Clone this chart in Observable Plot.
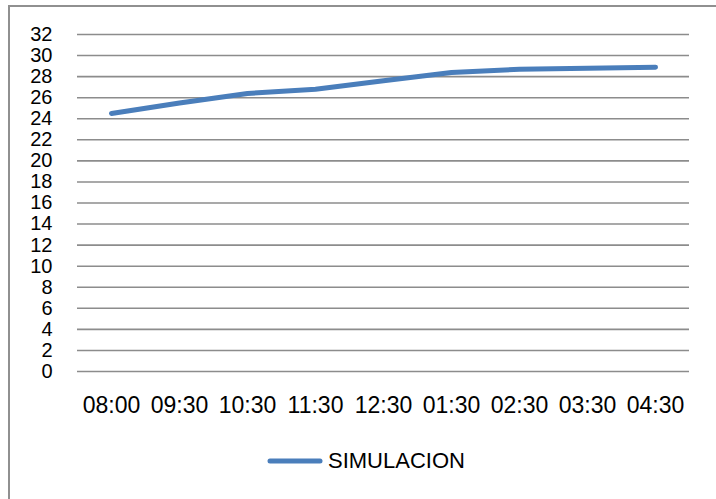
<!DOCTYPE html>
<html>
<head>
<meta charset="utf-8">
<script src="https://cdn.jsdelivr.net/npm/d3@7"></script>
<script src="https://cdn.jsdelivr.net/npm/@observablehq/plot@0.6"></script>
<style>
  html, body { margin: 0; padding: 0; background: #fff; }
  #wrap { position: relative; width: 716px; height: 499px; overflow: hidden; font-family: "Liberation Sans", Arial, sans-serif; }
  #border { position: absolute; left: 8px; top: 5px; width: 800px; height: 600px; border-left: 2px solid #909090; border-top: 2px solid #909090; box-sizing: border-box; }
  #chart { position: absolute; left: 0; top: 0; }
  #legend { position: absolute; left: 267px; top: 450px; display: flex; align-items: center; font-size: 22px; line-height: 22px; color: #000; }
  #legend svg { margin-right: 5px; }
</style>
</head>
<body>
<div id="wrap">
  <div id="border"></div>
  <div id="chart"></div>
  <div id="legend"></div>
</div>
<script>
const categories = ["08:00", "09:30", "10:30", "11:30", "12:30", "01:30", "02:30", "03:30", "04:30"];
const simulacion = [24.5, 25.5, 26.4, 26.8, 27.6, 28.4, 28.7, 28.8, 28.9];
const yTicks = [0, 2, 4, 6, 8, 10, 12, 14, 16, 18, 20, 22, 24, 26, 28, 30, 32];
const seriesName = "SIMULACION";
const lineColor = "#4a7ebb";

const data = categories.map((c, i) => ({hora: c, valor: simulacion[i]}));

const chart = Plot.plot({
  width: 716,
  height: 430,
  marginLeft: 77,
  marginRight: 27,
  marginTop: 34,
  marginBottom: 59,
  style: {fontFamily: "'Liberation Sans', Arial, sans-serif", fontSize: "22px", color: "#000", background: "transparent", overflow: "visible"},
  x: {type: "band", domain: categories, label: null, tickSize: 0, tickPadding: 25, padding: 0},
  y: {domain: [0, 32], ticks: yTicks, label: null, tickSize: 0, tickPadding: 25},
  marks: [
    Plot.ruleY(yTicks, {stroke: "#8c8c8c", strokeWidth: 1.6}),
    Plot.axisX({tickSize: 0, tickPadding: 25, fontSize: 23, label: null}),
    Plot.axisY({ticks: yTicks, tickSize: 0, tickPadding: 25, fontSize: 20, label: null}),
    Plot.line(data, {x: "hora", y: "valor", stroke: lineColor, strokeWidth: 5, strokeLinecap: "round", strokeLinejoin: "round"})
  ]
});
document.getElementById("chart").appendChild(chart);

const legend = document.getElementById("legend");
legend.innerHTML = `<svg width="56" height="8"><line x1="3" y1="4" x2="53" y2="4" stroke="${lineColor}" stroke-width="5" stroke-linecap="round"/></svg><span>${seriesName}</span>`;
</script>
</body>
</html>
